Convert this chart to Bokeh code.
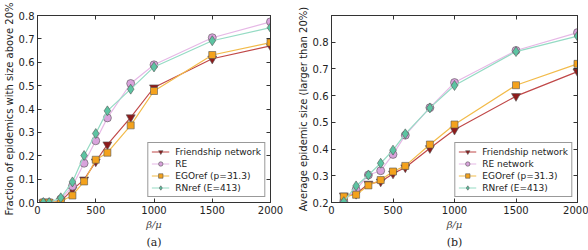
from bokeh.plotting import figure
from bokeh.layouts import row
from bokeh.models import (FixedTicker, PrintfTickFormatter, LinearAxis, Title,
                          Range1d)
from bokeh.embed import file_html
from bokeh.resources import INLINE

# ---- data: panel (a), fraction of epidemics larger than 20% ----
beta_a = [50, 100, 200, 300, 400, 500, 600, 800, 1000, 1500, 2000]
frac_friend = [0.0, 0.0, 0.005, 0.055, 0.098, 0.175, 0.248, 0.364, 0.492, 0.615, 0.670]
frac_re = [0.0, 0.0, 0.015, 0.070, 0.168, 0.264, 0.362, 0.509, 0.589, 0.705, 0.773]
frac_ego = [0.0, 0.0, 0.005, 0.030, 0.090, 0.183, 0.213, 0.330, 0.477, 0.631, 0.684]
frac_rn = [0.0, 0.0, 0.020, 0.088, 0.201, 0.295, 0.392, 0.485, 0.580, 0.692, 0.748]

# ---- data: panel (b), average size of epidemics larger than 20% ----
beta_b = [100, 200, 300, 400, 500, 600, 800, 1000, 1500, 2000]
size_friend = [0.226, 0.232, 0.270, 0.278, 0.308, 0.331, 0.403, 0.472, 0.598, 0.690]
size_re = [0.205, 0.248, 0.303, 0.319, 0.380, 0.452, 0.555, 0.649, 0.769, 0.836]
size_ego = [0.222, 0.229, 0.264, 0.284, 0.316, 0.337, 0.417, 0.492, 0.639, 0.719]
size_rn = [0.203, 0.262, 0.303, 0.347, 0.396, 0.457, 0.554, 0.638, 0.765, 0.823]

x_ticks = [0, 500, 1000, 1500, 2000]
y_ticks_a = [0.0, 0.1, 0.2, 0.3, 0.4, 0.5, 0.6, 0.7, 0.8]
y_ticks_b = [0.2, 0.3, 0.4, 0.5, 0.6, 0.7, 0.8]

# series styling: (label, marker, size, fill, line colour)
STYLES = {
    "friend": ("Friendship network", "inverted_triangle", 9, "#8e1b1b", "#c04848"),
    "re": ("RE", "circle", 8, "#d9a3dc", "#e6b8e6"),
    "ego": ("EGOref (p=31.3)", "square", 7, "#f4a21c", "#f2bb4a"),
    "rn": ("RNref (E=413)", "diamond", 10, "#5cc4a2", "#95dbc4"),
}

SANS = "DejaVu Sans"
SERIF = "DejaVu Serif"
TXT = "#222222"


def frame_ticks(ticks):
    """Unlabelled axis carrying inward ticks for the top/right frame edges."""
    return LinearAxis(ticker=FixedTicker(ticks=ticks),
                      major_label_overrides={t: "" for t in ticks},
                      major_label_text_font_size="1px",
                      major_tick_in=4, major_tick_out=0,
                      minor_tick_in=0, minor_tick_out=0,
                      axis_line_color="#333333", major_tick_line_color="#333333",
                      major_label_standoff=0)


def panel(x, series, ylo, yhi, yticks, ylabel, tag, borders, re_label):
    bl, br, bt, bb = borders
    p = figure(width=294, height=250, output_backend="svg", toolbar_location=None,
               x_range=Range1d(0, 2000), y_range=Range1d(ylo, yhi),
               min_border_left=bl, min_border_right=br,
               min_border_top=bt, min_border_bottom=bb)
    p.xgrid.visible = False
    p.ygrid.visible = False
    p.outline_line_color = "#333333"
    p.outline_line_width = 1
    p.background_fill_color = "white"

    for key, ys in series:
        label, marker, size, fill, lcol = STYLES[key]
        if key == "re":
            label = re_label
        p.line(x, ys, line_color=lcol, line_width=1.2, legend_label=label)
        p.scatter(x, ys, marker=marker, size=size, fill_color=fill,
                  line_color="#555555", line_width=0.6, legend_label=label)

    for ax in (p.xaxis[0], p.yaxis[0]):
        ax.major_tick_in = 4
        ax.major_tick_out = 0
        ax.minor_tick_in = 0
        ax.minor_tick_out = 0
        ax.axis_line_color = "#333333"
        ax.major_tick_line_color = "#333333"
        ax.major_label_text_font = SANS
        ax.major_label_text_font_size = "10px"
        ax.major_label_text_color = TXT
        ax.major_label_standoff = 3

    p.xaxis.ticker = FixedTicker(ticks=x_ticks)
    p.yaxis.ticker = FixedTicker(ticks=yticks)
    p.yaxis.formatter = PrintfTickFormatter(format="%.1f")

    p.xaxis.axis_label = "β/μ"
    p.xaxis.axis_label_text_font = SERIF
    p.xaxis.axis_label_text_font_style = "italic"
    p.xaxis.axis_label_text_font_size = "10px"
    p.xaxis.axis_label_text_color = "#444444"
    p.xaxis.axis_label_standoff = 2

    p.yaxis.axis_label = ylabel
    p.yaxis.axis_label_text_font = SANS
    p.yaxis.axis_label_text_font_style = "normal"
    p.yaxis.axis_label_text_font_size = "10px"
    p.yaxis.axis_label_text_color = TXT
    p.yaxis.axis_label_standoff = 1

    p.add_layout(frame_ticks(x_ticks), "above")
    p.add_layout(frame_ticks(yticks), "right")

    p.add_layout(Title(text=tag, align="center", text_font=SERIF,
                       text_font_size="11px", text_font_style="normal",
                       text_color=TXT, standoff=3), "below")

    lg = p.legend[0]
    lg.location = "bottom_right"
    lg.border_line_color = "#333333"
    lg.border_line_width = 1
    lg.background_fill_alpha = 1.0
    lg.label_text_font = SANS
    lg.label_text_font_size = "9px"
    lg.label_text_color = TXT
    lg.label_height = 11
    lg.glyph_height = 11
    lg.glyph_width = 18
    lg.label_standoff = 6
    lg.spacing = 1
    lg.padding = 3
    lg.margin = 5
    return p


pa = panel(beta_a,
           [("friend", frac_friend), ("re", frac_re), ("ego", frac_ego), ("rn", frac_rn)],
           0.0, 0.8, y_ticks_a, "Fraction of epidemics with size above 20%", "(a)",
           (26, 24, 15, 44), "RE")
pb = panel(beta_b,
           [("friend", size_friend), ("re", size_re), ("ego", size_ego), ("rn", size_rn)],
           0.2, 0.9, y_ticks_b, "Average epidemic size (larger than 20%)", "(b)",
           (37, 11, 14, 44), "RE network")

layout = row(pa, pb)
open("out.html", "w").write(file_html(layout, INLINE))
